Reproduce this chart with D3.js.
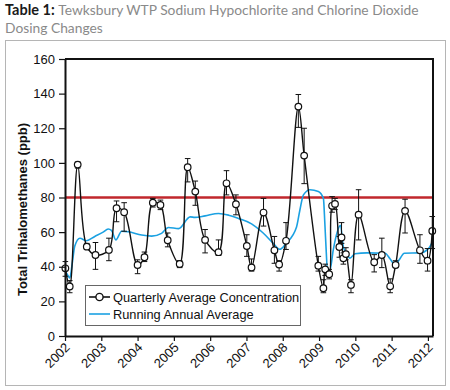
<!DOCTYPE html>
<html><head><meta charset="utf-8">
<script src="https://cdn.jsdelivr.net/npm/d3@7"></script>
<style>
body{margin:0;background:#fff;}
svg{display:block;}
</style></head>
<body>
<svg id="c" width="450" height="390"></svg>
<script>
// ---- data ----
const dates = [2002.01, 2002.13, 2002.35, 2002.60, 2002.84, 2003.21, 2003.42, 2003.63, 2004.00, 2004.19, 2004.42, 2004.63, 2004.83, 2005.16, 2005.38, 2005.59, 2005.86, 2006.23, 2006.45, 2006.71, 2007.01, 2007.14, 2007.47, 2007.77, 2007.90, 2008.09, 2008.43, 2008.59, 2008.98, 2009.12, 2009.17, 2009.28, 2009.36, 2009.44, 2009.56, 2009.62, 2009.67, 2009.74, 2009.88, 2010.09, 2010.52, 2010.73, 2010.96, 2011.11, 2011.37, 2011.78, 2011.99, 2012.12];
const quarterly = [39.1, 28.6, 99, 51.6, 46.8, 49.7, 73.8, 71.5, 41, 45.5, 77, 75.7, 55.3, 41.6, 97.5, 83.4, 55.5, 48.4, 88.2, 76.1, 52, 39.6, 71.3, 49.5, 41.3, 55, 132.5, 104.2, 40.6, 27.6, 38.5, 35.7, 75.2, 76.3, 51.4, 56.9, 44.9, 47.3, 29.5, 70.1, 42.6, 46.8, 28.7, 41, 72.3, 49.5, 43.5, 60.7];
const errLow = [34.5, 25, 97, 50, 38.5, 43.5, 66, 60.5, 36, 43, 74.5, 73, 51.5, 39.5, 89, 75.5, 48, 46.5, 81.5, 70, 46, 37.5, 63.5, 42, 37.5, 50, 120.5, 88, 37.5, 25, 35, 33, 71.5, 73, 45.5, 53.5, 41.5, 44, 25, 55.5, 37, 39.5, 25, 39.5, 59.5, 42, 37.5, 50.5];
const errHigh = [43, 32, 100.5, 53.5, 54, 56.5, 78, 77, 44, 48.5, 79.5, 78.5, 59.5, 43.5, 102.5, 89.5, 61.5, 55.5, 95.5, 81.5, 58.5, 44.5, 79.5, 57.5, 43.5, 65.5, 139.5, 120, 46, 32.5, 41.5, 38.5, 80.5, 79.5, 57.5, 65.5, 48, 51, 32.5, 84.5, 47, 56.5, 33, 43.5, 79, 58.5, 50.5, 69];
const runDates = [2002.01, 2002.08, 2002.13, 2002.20, 2002.27, 2002.41, 2002.59, 2002.82, 2003.05, 2003.19, 2003.28, 2003.40, 2003.56, 2003.74, 2004.11, 2004.39, 2004.66, 2004.85, 2005.13, 2005.45, 2005.58, 2005.86, 2006.23, 2006.51, 2006.78, 2007.14, 2007.46, 2007.74, 2007.92, 2008.09, 2008.38, 2008.47, 2008.57, 2008.75, 2008.98, 2009.12, 2009.16, 2009.20, 2009.23, 2009.30, 2009.39, 2009.50, 2009.59, 2009.67, 2009.76, 2009.85, 2009.99, 2010.32, 2010.82, 2010.96, 2011.10, 2011.21, 2011.35, 2011.79, 2012.02, 2012.13];
const runAvg = [37.5, 35, 33.5, 42, 52, 56.5, 55, 57.5, 60, 61.8, 61, 55.5, 60.5, 60.2, 58.3, 57.7, 59.3, 62.7, 62, 68.8, 68.5, 69.4, 70.8, 69.8, 67.9, 64.8, 59.5, 53.5, 50.1, 53.5, 63, 72.5, 81.5, 84.5, 83.5, 79.5, 65, 48, 38, 38, 49.5, 60, 64, 51.5, 47.8, 45, 47.5, 48, 47.8, 44.5, 41, 44, 47.8, 48, 50.6, 54.5];
const yearTicks = [2002, 2003, 2004, 2005, 2006, 2007, 2008, 2009, 2010, 2011, 2012];
const yTicks = [0, 20, 40, 60, 80, 100, 120, 140, 160];
const mcl = 80;
const legendLabels = ["Quarterly Average Concentration", "Running Annual Average"];

// ---- layout ----
const svg = d3.select("#c");
const L = 65, R = 433, T = 59, B = 336;
const x = d3.scaleLinear().domain([2002, 2012.14]).range([L, R]);
const y = d3.scaleLinear().domain([0, 160]).range([B, T]);
const font = "'Liberation Sans', Arial, Helvetica, sans-serif";

// outer frame
svg.append("rect").attr("x", 5.5).attr("y", 40.5).attr("width", 440).attr("height", 345)
  .attr("fill", "none").attr("stroke", "#b5b5b5").attr("stroke-width", 1);

// title
const tf = "Lato, 'Open Sans', sans-serif";
const title = svg.append("text").attr("x", 5).attr("y", 15).attr("font-family", tf).attr("font-size", 14.5);
title.append("tspan").attr("font-weight", "bold").attr("fill", "#1a1a1a").text("Table 1: ");
title.append("tspan").attr("fill", "#8a8a8a").attr("font-size", 13.8).text("Tewksbury WTP Sodium Hypochlorite and Chlorine Dioxide");
svg.append("text").attr("x", 5).attr("y", 33).attr("font-family", tf).attr("font-size", 13.8)
  .attr("fill", "#8a8a8a").text("Dosing Changes");

// MCL line
svg.append("line").attr("x1", L).attr("x2", R).attr("y1", y(mcl)).attr("y2", y(mcl))
  .attr("stroke", "#c1272d").attr("stroke-width", 2.6);

// running annual average
const runData = runDates.map((d, i) => [d, runAvg[i]]);
svg.append("path").datum(runData)
  .attr("d", d3.line().x(d => x(d[0])).y(d => y(d[1])).curve(d3.curveMonotoneX))
  .attr("fill", "none").attr("stroke", "#1ba1e2").attr("stroke-width", 1.6);

// quarterly line
const qData = dates.map((d, i) => ({t: d, v: quarterly[i], lo: errLow[i], hi: errHigh[i]}));
svg.append("path").datum(qData)
  .attr("d", d3.line().x(d => x(d.t)).y(d => y(d.v)).curve(d3.curveCatmullRom.alpha(0.5)))
  .attr("fill", "none").attr("stroke", "#111").attr("stroke-width", 1.4);

// error bars
const eb = svg.append("g").attr("stroke", "#111").attr("stroke-width", 1);
qData.forEach(d => {
  const cx = x(d.t);
  eb.append("line").attr("x1", cx).attr("x2", cx).attr("y1", y(d.lo)).attr("y2", y(d.hi));
  eb.append("line").attr("x1", cx - 2.8).attr("x2", cx + 2.8).attr("y1", y(d.lo)).attr("y2", y(d.lo));
  eb.append("line").attr("x1", cx - 2.8).attr("x2", cx + 2.8).attr("y1", y(d.hi)).attr("y2", y(d.hi));
});

// points
svg.append("g").selectAll("circle").data(qData).join("circle")
  .attr("cx", d => x(d.t)).attr("cy", d => y(d.v)).attr("r", 3.3)
  .attr("fill", "#fff").attr("stroke", "#111").attr("stroke-width", 1.2);

// frame top/right
svg.append("line").attr("x1", L).attr("x2", R).attr("y1", T).attr("y2", T).attr("stroke", "#111").attr("stroke-width", 2);
svg.append("line").attr("x1", R).attr("x2", R).attr("y1", T - 1).attr("y2", B).attr("stroke", "#111").attr("stroke-width", 2);

// y axis
const yMinor = d3.range(0, 161, 4).filter(v => v % 20 !== 0);
const ya = svg.append("g").attr("transform", `translate(${L},0)`);
ya.call(d3.axisLeft(y).tickValues(yMinor).tickSize(-3).tickFormat(""));
ya.call(d3.axisLeft(y).tickValues(yTicks).tickSizeInner(6).tickSizeOuter(0).tickPadding(4));
ya.selectAll(".domain").attr("stroke-width", 2).attr("stroke", "#111");
ya.selectAll("line").attr("stroke", "#111").attr("stroke-width", 1.2);
ya.selectAll("text").attr("font-family", font).attr("font-size", 13).attr("fill", "#111");

// x axis
const xMinor = d3.range(2002, 2012.15, 0.25).filter(v => Math.abs(v - Math.round(v)) > 0.01);
const xa = svg.append("g").attr("transform", `translate(0,${B})`);
xa.call(d3.axisBottom(x).tickValues(xMinor).tickSize(-3).tickFormat(""));
xa.call(d3.axisBottom(x).tickValues(yearTicks).tickSizeInner(5).tickSizeOuter(0).tickFormat(d3.format("d")));
xa.selectAll(".domain").attr("stroke-width", 2).attr("stroke", "#111");
xa.selectAll("line").attr("stroke", "#111").attr("stroke-width", 1.2);
xa.selectAll("text").attr("font-family", font).attr("font-size", 13).attr("fill", "#111")
  .attr("text-anchor", "end").attr("dy", "0.35em")
  .attr("transform", "translate(2,9) rotate(-45)").attr("x", 0).attr("y", 0);

// y label
svg.append("text").attr("transform", `translate(27,${(T + B) / 2 + 12}) rotate(-90)`)
  .attr("text-anchor", "middle").attr("font-family", font).attr("font-weight", "bold")
  .attr("font-size", 13).attr("fill", "#111").text("Total Trihalomethanes (ppb)");

// legend
const lg = svg.append("g");
lg.append("rect").attr("x", 85.5).attr("y", 285.5).attr("width", 215).attr("height", 40)
  .attr("fill", "#fff").attr("stroke", "#666").attr("stroke-width", 1);
lg.append("line").attr("x1", 89).attr("x2", 110).attr("y1", 297).attr("y2", 297).attr("stroke", "#111").attr("stroke-width", 1.6);
lg.append("circle").attr("cx", 99.5).attr("cy", 297).attr("r", 3.6).attr("fill", "#fff").attr("stroke", "#111").attr("stroke-width", 1.4);
lg.append("line").attr("x1", 89).attr("x2", 110).attr("y1", 314).attr("y2", 314).attr("stroke", "#1ba1e2").attr("stroke-width", 1.6);
lg.append("text").attr("x", 113).attr("y", 301.5).attr("font-family", font).attr("font-size", 12.8).attr("fill", "#111").text(legendLabels[0]);
lg.append("text").attr("x", 113).attr("y", 318.5).attr("font-family", font).attr("font-size", 12.8).attr("fill", "#111").text(legendLabels[1]);
</script>
</body></html>
